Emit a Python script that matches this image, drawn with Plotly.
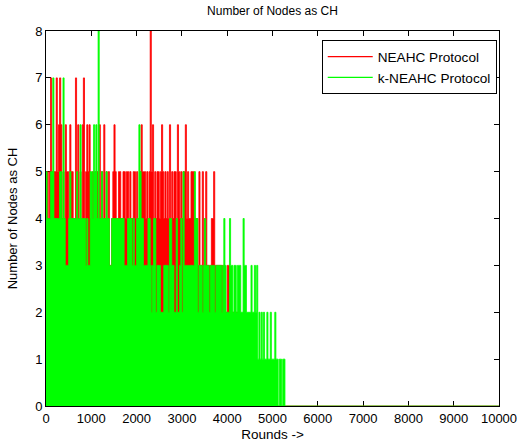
import plotly.graph_objects as go

# ---- data ----
round_step = 25          # rounds per sample column
last_round = 10000       # x-axis extent; both series are 0 at the end

series_names = ["NEAHC Protocol", "k-NEAHC Protocol"]

# NEAHC: peak number of CH nodes per 25-round column
neahc_ch = [
    4, 5, 4, 5, 7, 5, 4, 5, 5, 7,
    5, 6, 7, 6, 4, 5, 4, 6, 5, 5,
    4, 6, 5, 5, 4, 4, 7, 5, 6, 4,
    5, 4, 6, 7, 4, 5, 6, 5, 6, 4,
    4, 5, 4, 5, 4, 5, 4, 6, 4, 5,
    4, 6, 4, 5, 4, 5, 3, 3, 4, 5,
    6, 5, 4, 4, 5, 5, 4, 4, 5, 5,
    4, 5, 5, 4, 5, 4, 4, 5, 5, 4,
    5, 4, 4, 5, 6, 5, 5, 5, 4, 5,
    4, 5, 8, 5, 6, 4, 5, 4, 5, 5,
    4, 5, 6, 5, 4, 5, 4, 5, 4, 6,
    4, 5, 4, 5, 5, 4, 6, 5, 4, 5,
    4, 5, 5, 6, 4, 5, 4, 4, 5, 5,
    5, 4, 4, 4, 3, 5, 3, 3, 5, 3,
    4, 5, 3, 3, 3, 3, 4, 4, 5, 3,
    3, 3, 3, 3, 3, 3, 2, 3, 2, 2,
    3, 3, 2, 2, 2, 2, 2, 2, 2, 2,
    2, 1, 1, 1, 1, 1, 1, 1, 0,
]

# k-NEAHC: peak number of CH nodes per 25-round column
kneahc_ch = [
    5, 4, 4, 4, 5, 5, 7, 4, 4, 4,
    4, 4, 5, 5, 4, 7, 4, 3, 3, 3,
    4, 5, 4, 4, 4, 4, 4, 5, 4, 4,
    6, 4, 4, 4, 4, 3, 4, 3, 3, 5,
    5, 4, 6, 5, 6, 4, 8, 4, 4, 5,
    4, 4, 4, 5, 4, 4, 3, 3, 4, 4,
    4, 4, 4, 4, 4, 4, 4, 4, 4, 3,
    3, 3, 4, 4, 4, 4, 3, 4, 3, 3,
    4, 4, 6, 5, 4, 4, 3, 3, 3, 3,
    4, 4, 3, 2, 3, 4, 4, 2, 3, 3,
    3, 2, 2, 2, 3, 3, 3, 3, 2, 4,
    4, 3, 3, 2, 2, 4, 2, 2, 3, 4,
    2, 5, 3, 3, 3, 3, 3, 3, 3, 3,
    3, 5, 4, 4, 2, 3, 3, 3, 2, 3,
    4, 3, 3, 3, 2, 3, 3, 3, 3, 2,
    3, 3, 3, 3, 3, 2, 3, 4, 3, 2,
    2, 2, 4, 3, 3, 2, 3, 3, 2, 3,
    3, 3, 2, 2, 4, 3, 3, 2, 2, 2,
    2, 3, 2, 2, 3, 2, 3, 1, 2, 1,
    2, 1, 2, 1, 1, 2, 1, 1, 2, 1,
    1, 1, 2, 1, 1, 0, 1, 1, 0, 1,
    1, 0,
]

x_ticks = [0, 1000, 2000, 3000, 4000, 5000, 6000, 7000, 8000, 9000, 10000]
y_ticks = [0, 1, 2, 3, 4, 5, 6, 7, 8]

colors = ["#ff0000", "#00ff00"]
FONT = "Liberation Sans, Arial, Helvetica, sans-serif"


def build_xy(values):
    xs = [i * round_step for i in range(len(values))] + [last_round]
    ys = list(values) + [values[-1]]
    return xs, ys


fig = go.Figure()
for name, vals, col in zip(series_names, [neahc_ch, kneahc_ch], colors):
    xs, ys = build_xy(vals)
    fig.add_trace(go.Scatter(
        x=xs, y=ys, mode="lines", line_shape="hv",
        line=dict(color=col, width=0.8),
        fill="tozeroy", fillcolor=col,
        showlegend=False, hoverinfo="skip",
    ))

for name, col in zip(series_names, colors):
    fig.add_trace(go.Scatter(
        x=[None], y=[None], mode="lines", name=name,
        line=dict(color=col, width=1.2),
    ))

axis_common = dict(
    showline=True, linecolor="black", linewidth=1, mirror="ticks",
    ticks="inside", ticklen=5, tickcolor="black", tickwidth=1,
    showgrid=False, zeroline=False, layer="below traces",
    automargin=False, ticklabeloverflow="allow",
    tickfont=dict(family=FONT, size=13, color="black"),
)

fig.update_layout(
    width=517, height=445,
    margin=dict(l=46, r=18, t=31, b=39),
    paper_bgcolor="white", plot_bgcolor="white",
    font=dict(family=FONT, size=13, color="black"),
    title=dict(text="Number of Nodes as CH", x=0.527, xanchor="center",
               y=0.975, yanchor="middle",
               font=dict(family=FONT, size=12, color="black")),
    legend=dict(x=0.995, xanchor="right", y=0.975, yanchor="top",
                bgcolor="white", bordercolor="black", borderwidth=1,
                font=dict(family=FONT, size=13.6, color="black"),
                itemwidth=45, tracegroupgap=0),
    xaxis=dict(range=[0, last_round], tickvals=x_ticks,
               ticktext=[str(v) for v in x_ticks],
               title=dict(text="Rounds ->", standoff=4,
                          font=dict(family=FONT, size=13.5, color="black")),
               **axis_common),
    yaxis=dict(range=[0, 8], tickvals=y_ticks,
               ticktext=[str(v) for v in y_ticks],
               title=dict(text="Number of Nodes as CH", standoff=14,
                          font=dict(family=FONT, size=13, color="black")),
               **axis_common),
)

fig.write_html("out.html",
               config={"displayModeBar": False},
               post_script="document.body.style.margin='0';"
                           "document.body.style.overflow='hidden';")
